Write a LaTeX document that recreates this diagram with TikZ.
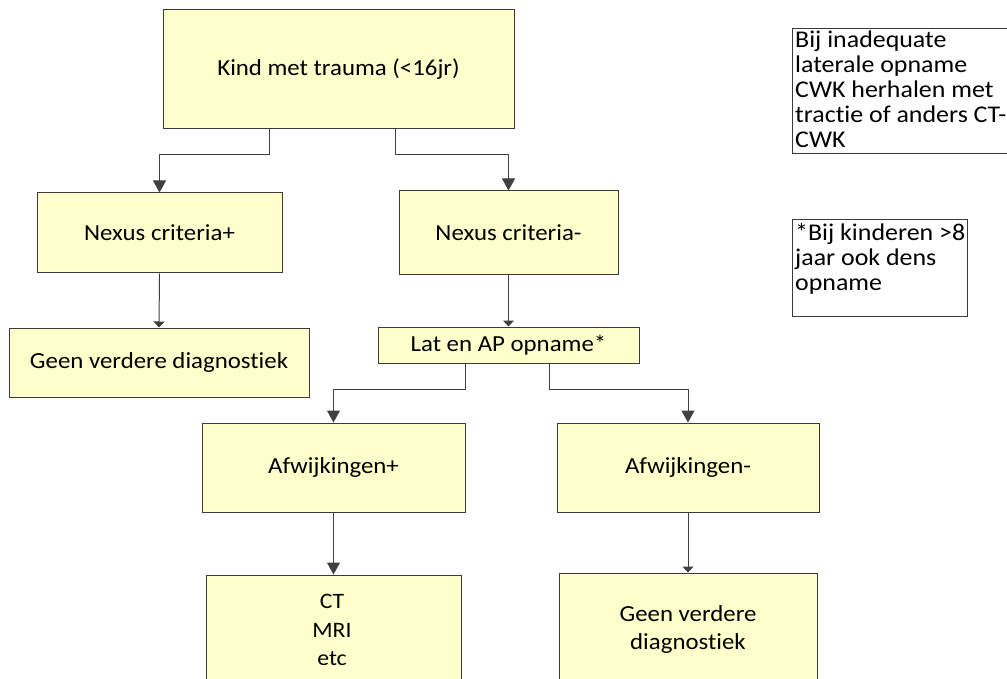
\documentclass[tikz,border=0pt]{standalone}
\usepackage{fontspec}
\setmainfont{Carlito}[FakeStretch=1.08, Ligatures=NoCommon]
\usetikzlibrary{arrows.meta}
\definecolor{boxfill}{HTML}{FFFFCC}
\definecolor{boxline}{HTML}{3A3A3A}
\definecolor{conline}{HTML}{404040}
\tikzset{
  flowbox/.style={draw=boxline, line width=1pt, fill=boxfill, inner sep=0pt, align=center, font=\fontsize{23}{28}\selectfont},
  notebox/.style={draw=boxline, line width=1pt, fill=white, inner sep=0pt},
  notetext/.style={anchor=north west, align=left, inner sep=0pt, font=\fontsize{24}{25}\selectfont},
  bigarr/.style={draw=conline, line width=1pt, -{Triangle[width=13pt,length=12pt]}},
  smallarr/.style={draw=conline, line width=1pt, -{Triangle[width=11pt,length=6pt]}},
}
\begin{document}
\begin{tikzpicture}[x=1pt,y=-1pt]
\useasboundingbox (0,0) rectangle (1007,679);
\clip (0,0) rectangle (1007,679);
% boxes
\node[flowbox, minimum width=351pt, minimum height=119pt] (top) at (338.5,69.5) {Kind met trauma (<16jr)};
\node[flowbox, minimum width=245pt, minimum height=80pt] (nexp) at (159.5,233) {Nexus criteria+};
\node[flowbox, minimum width=219pt, minimum height=84pt] (nexm) at (508.5,233) {Nexus criteria-};
\node[flowbox, minimum width=300pt, minimum height=69pt] (geen1) at (159,362.5) {Geen verdere diagnostiek};
\node[flowbox, minimum width=261pt, minimum height=36pt] (lat) at (508.5,345) {Lat en AP opname*};
\node[flowbox, minimum width=263pt, minimum height=89pt] (afwp) at (333.5,467.5) {Afwijkingen+};
\node[flowbox, minimum width=262pt, minimum height=89pt] (afwm) at (688,467.5) {Afwijkingen-};
\node[flowbox, minimum width=255pt, minimum height=120pt] (ct) at (333.5,635) {};
\node[flowbox, minimum width=258pt, minimum height=120pt] (geen2) at (688,633) {};
\node[align=center, inner sep=0pt, font=\fontsize{22}{28.5}\selectfont] (cttext) at (332,630) {CT\\MRI\\etc};
\node[align=center, inner sep=0pt, font=\fontsize{23}{28}\selectfont] (geen2text) at (688,629) {Geen verdere\\diagnostiek};
% notes
\node[notebox, minimum width=215pt, minimum height=125pt] (note1) at (899.5,91.5) {};
\node[notetext] (note1text) at (795,31) {Bij inadequate\\laterale opname\\CWK herhalen met\\tractie of anders CT-\\CWK};
\node[notebox, minimum width=175pt, minimum height=96pt] (note2) at (879.5,268) {};
\node[notetext] (note2text) at (795,223) {*Bij kinderen >8\\jaar ook dens\\opname};
% connectors
\coordinate (tl) at (269,155);
\coordinate (tr) at (395,155);
\coordinate (ll) at (465,389);
\coordinate (lr) at (549,389);
\draw[bigarr] (top.south -| tl) -- (tl) -| (nexp.north);
\draw[bigarr] (top.south -| tr) -- (tr) -| (nexm.north);
\draw[smallarr] (nexp.south) -- (geen1.north);
\draw[smallarr] (nexm.south) -- (lat.north);
\draw[bigarr] (lat.south -| ll) -- (ll) -| (afwp.north);
\draw[bigarr] (lat.south -| lr) -- (lr) -| (afwm.north);
\draw[bigarr] (afwp.south) -- (ct.north);
\draw[smallarr] (afwm.south) -- (geen2.north);
\end{tikzpicture}
\end{document}
